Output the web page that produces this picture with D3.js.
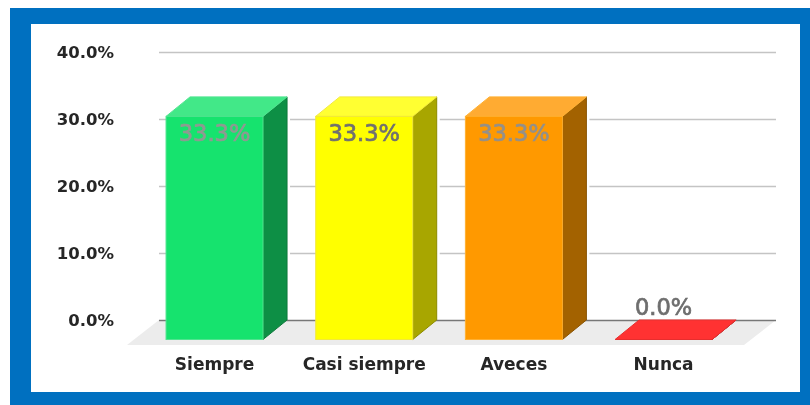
<!DOCTYPE html>
<html>
<head>
<meta charset="utf-8">
<script src="https://cdn.jsdelivr.net/npm/d3@7"></script>
<style>
body { margin: 0; background: #fff; overflow: hidden; }
text { font-family: "DejaVu Sans", sans-serif; }
</style>
</head>
<body>
<script>
// values
const categories = ["Siempre", "Casi siempre", "Aveces", "Nunca"];
const percentages = [33.3, 33.3, 33.3, 0];
const yTicks = [0, 10, 20, 30, 40];

const frontColors = ["#16e36e", "#ffff00", "#ff9900", "#ff3333"];
const topColors = ["#43e888", "#ffff33", "#ffab33", "#ff3333"];
const sideColors = ["#0d8f45", "#a8a600", "#a36200", "#b32424"];
const edgeColors = ["#4fe48f", "#f2e93a", "#ffb030", "#e62e2e"];
const labelColors = ["#8f9a92", "#707070", "#94908a", "#6e6e6e"];

const canvWidth = 810, canvHeight = 405;
// 3d offset between the front and the back of a bar
const depthX = 24, depthY = 19.5;

const svg = d3.select("body").append("svg")
    .attr("width", canvWidth)
    .attr("height", canvHeight)
    .style("display", "block");

const defs = svg.append("defs");
defs.append("filter").attr("id", "soft")
    .append("feGaussianBlur").attr("stdDeviation", 0.5);

// blue frame
svg.append("rect").attr("x", 10).attr("y", 8)
    .attr("width", 800).attr("height", 397).attr("fill", "#0070c0");
svg.append("rect").attr("x", 31).attr("y", 24)
    .attr("width", 769).attr("height", 368).attr("fill", "#fff");

const yScale = d3.scaleLinear().domain([0, 40]).range([320, 52]);
const xScale = d3.scaleBand()
    .domain(categories)
    .range([139.7, 738.4])
    .paddingInner(0.352)
    .paddingOuter(0.176);

const gridLeft = 159, gridRight = 776;
const floorY = yScale(0);

// floor
svg.append("path")
    .attr("d", d3.line()([[gridLeft, floorY], [gridRight, floorY], [gridRight - 32, floorY + 25], [gridLeft - 32, floorY + 25]]) + "Z")
    .attr("fill", "#ececec");

// y axis + grid lines
const yAxis = d3.axisLeft(yScale)
    .tickValues(yTicks)
    .tickFormat(d => d.toFixed(1) + "%")
    .tickSize(gridRight - gridLeft);

const yG = svg.append("g")
    .attr("transform", "translate(" + gridRight + ",0)")
    .attr("filter", "url(#soft)")
    .call(yAxis);
yG.select(".domain").remove();
yG.selectAll("line").attr("stroke", "#c4c4c4").attr("stroke-width", 1.5);
yG.selectAll("line").filter(d => d === 0).attr("stroke", "#777").attr("stroke-width", 1.5);
yG.selectAll("text")
    .attr("x", 114 - gridRight)
    .attr("font-size", 16.5)
    .attr("font-weight", "bold")
    .attr("fill", "#262626");

// bars
const bars = svg.append("g").attr("filter", "url(#soft)")
    .selectAll("g").data(categories).enter().append("g");

const line = d3.line();
const left = d => xScale(d);
const right = d => xScale(d) + xScale.bandwidth();
const top_ = (d, i) => yScale(percentages[i]) + depthY;
const bottom = () => floorY + depthY;

// white gap that cuts the grid lines next to the side face
bars.filter((d, i) => percentages[i] > 0).append("line")
    .attr("x1", d => right(d) + depthX + 1.5)
    .attr("x2", d => right(d) + depthX + 1.5)
    .attr("y1", (d, i) => top_(d, i) - depthY)
    .attr("y2", floorY - 2)
    .attr("stroke", "#fff")
    .attr("stroke-width", 3);

// side face
bars.append("path")
    .attr("d", (d, i) => line([[right(d), top_(d, i)], [right(d) + depthX, top_(d, i) - depthY], [right(d) + depthX, bottom() - depthY], [right(d), bottom()]]) + "Z")
    .attr("fill", (d, i) => sideColors[i])
    .attr("stroke", (d, i) => d3.color(sideColors[i]).darker(0.5))
    .attr("stroke-width", 1);

// top face
bars.append("path")
    .attr("d", (d, i) => line([[left(d), top_(d, i)], [left(d) + depthX, top_(d, i) - depthY], [right(d) + depthX, top_(d, i) - depthY], [right(d), top_(d, i)]]) + "Z")
    .attr("fill", (d, i) => topColors[i])
    .attr("stroke", (d, i) => edgeColors[i])
    .attr("stroke-width", 1);

// front face
bars.append("rect")
    .attr("x", d => left(d))
    .attr("y", (d, i) => top_(d, i))
    .attr("width", xScale.bandwidth())
    .attr("height", (d, i) => bottom() - top_(d, i))
    .attr("fill", (d, i) => frontColors[i])
    .attr("stroke", (d, i) => edgeColors[i])
    .attr("stroke-width", 1);

// value labels
svg.append("g").attr("filter", "url(#soft)")
    .selectAll("text").data(categories).enter().append("text")
    .attr("x", d => xScale(d) + xScale.bandwidth() / 2)
    .attr("y", (d, i) => percentages[i] > 0 ? top_(d, i) + 25 : floorY - 5)
    .attr("text-anchor", "middle")
    .attr("font-size", 22.5)
    .attr("fill", (d, i) => labelColors[i])
    .attr("stroke", (d, i) => labelColors[i])
    .attr("stroke-width", 0.7)
    .text((d, i) => percentages[i].toFixed(1) + "%");

// category labels
const xAxis = d3.axisBottom(xScale).tickSize(0);
const xG = svg.append("g")
    .attr("transform", "translate(0,354)")
    .attr("filter", "url(#soft)")
    .call(xAxis);
xG.select(".domain").remove();
xG.selectAll("text")
    .attr("y", 0)
    .attr("dy", "0.93em")
    .attr("font-size", 17)
    .attr("font-weight", "bold")
    .attr("fill", "#262626");
</script>
</body>
</html>
